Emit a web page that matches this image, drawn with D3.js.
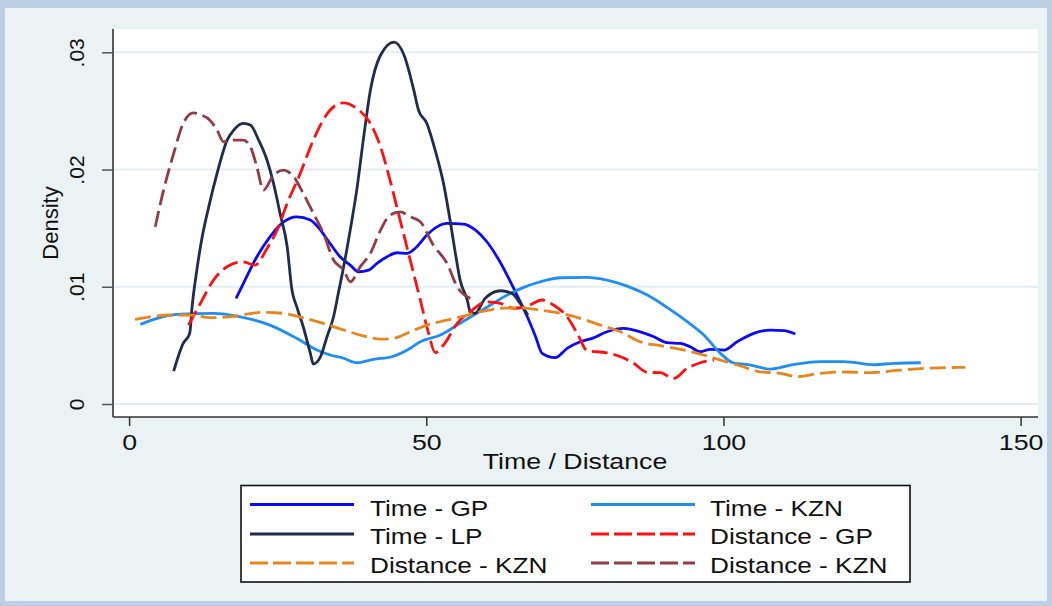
<!DOCTYPE html>
<html>
<head>
<meta charset="utf-8">
<script src="https://cdn.jsdelivr.net/npm/d3@7"></script>
<style>
  html, body { margin: 0; padding: 0; background: #bccfe5; }
  svg { display: block; }
</style>
</head>
<body>
<svg id="chart" width="1052" height="606"></svg>
<script>
// ---- data ---------------------------------------------------------------
const xTicks = [0, 50, 100, 150];
const yTicks = [0, 0.01, 0.02, 0.03];
const yTickLabels = ["0", ".01", ".02", ".03"];
const xTitle = "Time / Distance";
const yTitle = "Density";

const seriesNames = ["Time - GP", "Time - KZN", "Time - LP", "Distance - GP", "Distance - KZN", "Distance - KZN"];

// kernel density estimates: [value, density]
const timeGP = [
  [18.0, 0.00901], [19.5, 0.01057], [21.5, 0.01256], [23.7, 0.01426], [26.0, 0.01554],
  [28.2, 0.01597], [30.5, 0.01569], [32.2, 0.01483], [33.8, 0.01370], [35.5, 0.01256],
  [37.2, 0.01185], [38.6, 0.01128], [40.3, 0.01142], [41.7, 0.01199], [43.4, 0.01256],
  [45.1, 0.01290], [46.8, 0.01285], [48.4, 0.01341], [50.1, 0.01441], [51.8, 0.01511],
  [53.5, 0.01541], [56.3, 0.01535], [58.3, 0.01483], [60.2, 0.01384], [61.9, 0.01256],
  [63.6, 0.01100], [65.0, 0.00957], [67.0, 0.00744], [68.4, 0.00574], [69.5, 0.00432],
  [71.7, 0.00395], [73.7, 0.00475], [75.9, 0.00531], [77.9, 0.00560], [80.4, 0.00616],
  [83.2, 0.00645], [86.0, 0.00616], [88.3, 0.00574], [90.5, 0.00523], [92.8, 0.00517],
  [94.4, 0.00488], [96.1, 0.00446], [97.8, 0.00466], [100.1, 0.00460], [102.3, 0.00531],
  [105.1, 0.00603], [107.9, 0.00631], [110.2, 0.00625], [112.1, 0.00597]
];

const timeKZN = [
  [1.9, 0.00679], [4.7, 0.00731], [8.6, 0.00767], [14.2, 0.00773], [18.7, 0.00744],
  [23.7, 0.00673], [28.2, 0.00560], [31.6, 0.00460], [33.8, 0.00418], [36.1, 0.00390],
  [38.3, 0.00352], [41.1, 0.00381], [44.2, 0.00403], [46.8, 0.00460], [49.0, 0.00531],
  [52.4, 0.00588], [55.2, 0.00673], [58.0, 0.00759], [60.8, 0.00844], [63.6, 0.00929],
  [66.4, 0.00995], [69.2, 0.01043], [72.6, 0.01077], [77.1, 0.01080], [80.4, 0.01057],
  [83.8, 0.01006], [87.2, 0.00929], [90.5, 0.00824], [93.9, 0.00702], [96.7, 0.00588],
  [99.5, 0.00432], [101.5, 0.00354], [104.6, 0.00332], [107.9, 0.00298], [111.3, 0.00332],
  [116.3, 0.00361], [120.3, 0.00361], [125.3, 0.00335], [128.7, 0.00347], [133.2, 0.00352]
];

const timeLP = [
  [7.5, 0.00281], [9.1, 0.00517], [10.2, 0.00603], [10.6, 0.00830], [11.4, 0.01143],
  [12.2, 0.01398], [13.4, 0.01682], [14.8, 0.01967], [16.5, 0.02251], [17.6, 0.02336],
  [19.2, 0.02393], [20.4, 0.02379], [21.8, 0.02251], [23.2, 0.02081], [24.3, 0.01882],
  [25.4, 0.01626], [26.6, 0.01341], [27.4, 0.00972], [28.2, 0.00830], [29.3, 0.00659],
  [30.5, 0.00432], [31.0, 0.00341], [32.2, 0.00403], [33.3, 0.00574], [34.4, 0.00744],
  [35.2, 0.00944], [36.1, 0.01171], [37.2, 0.01483], [38.3, 0.01824], [39.4, 0.02251],
  [40.6, 0.02677], [42.3, 0.02975], [44.6, 0.03086], [46.3, 0.02970], [47.9, 0.02677],
  [48.7, 0.02506], [50.1, 0.02393], [51.5, 0.02165], [52.9, 0.01882], [54.0, 0.01569],
  [54.9, 0.01285], [55.7, 0.01057], [56.9, 0.00887], [57.4, 0.00787], [58.2, 0.00773],
  [59.9, 0.00901], [62.5, 0.00966], [64.4, 0.00944], [65.8, 0.00858], [67.1, 0.00759]
];

const distanceGP = [
  [10.0, 0.00673], [12.0, 0.00858], [14.2, 0.01057], [17.0, 0.01185], [19.2, 0.01213],
  [21.2, 0.01185], [23.2, 0.01327], [24.9, 0.01483], [26.6, 0.01711], [28.8, 0.01967],
  [31.0, 0.02251], [33.8, 0.02506], [36.1, 0.02569], [38.3, 0.02521], [40.6, 0.02393],
  [42.3, 0.02194], [43.9, 0.01910], [45.6, 0.01569], [47.3, 0.01228], [49.0, 0.00887],
  [50.4, 0.00603], [51.5, 0.00439], [52.9, 0.00503], [55.2, 0.00688], [57.4, 0.00787],
  [60.2, 0.00872], [62.5, 0.00858], [64.7, 0.00816], [67.0, 0.00835], [69.5, 0.00887],
  [71.4, 0.00844], [73.7, 0.00744], [75.4, 0.00603], [77.1, 0.00454], [80.4, 0.00437],
  [82.7, 0.00403], [84.9, 0.00347], [87.2, 0.00270], [89.4, 0.00267], [91.6, 0.00219],
  [93.9, 0.00304], [96.1, 0.00352], [98.4, 0.00375]
];

const distanceKZN = [
  [1.0, 0.00722], [3.5, 0.00744], [6.9, 0.00759], [10.3, 0.00759], [13.6, 0.00736],
  [17.0, 0.00744], [19.8, 0.00767], [22.6, 0.00782], [26.0, 0.00773], [29.3, 0.00736],
  [32.7, 0.00688], [36.1, 0.00631], [39.4, 0.00582], [42.3, 0.00554], [44.5, 0.00560],
  [47.3, 0.00616], [50.1, 0.00673], [53.5, 0.00716], [56.3, 0.00750], [59.1, 0.00787],
  [62.5, 0.00816], [65.8, 0.00821], [69.2, 0.00801], [72.6, 0.00773], [75.9, 0.00731],
  [79.3, 0.00673], [82.7, 0.00616], [86.0, 0.00531], [89.4, 0.00497], [92.8, 0.00466],
  [96.1, 0.00426], [99.5, 0.00375], [102.9, 0.00324], [106.2, 0.00275], [109.6, 0.00262],
  [112.4, 0.00233], [116.3, 0.00262], [120.8, 0.00273], [124.8, 0.00267], [128.7, 0.00284],
  [132.0, 0.00298], [136.5, 0.00309], [140.7, 0.00313]
];

const distanceKZN2 = [
  [4.4, 0.01512], [5.8, 0.01824], [7.5, 0.02137], [9.1, 0.02393], [10.8, 0.02483],
  [12.2, 0.02464], [13.6, 0.02421], [14.8, 0.02336], [15.9, 0.02236], [17.6, 0.02251],
  [19.2, 0.02251], [20.4, 0.02194], [21.5, 0.02023], [22.6, 0.01824], [24.3, 0.01952],
  [26.0, 0.01995], [27.7, 0.01938], [29.3, 0.01796], [31.0, 0.01626], [32.7, 0.01455],
  [34.4, 0.01228], [36.1, 0.01142], [37.2, 0.01043], [38.9, 0.01171], [40.6, 0.01285],
  [42.3, 0.01483], [43.9, 0.01611], [45.6, 0.01639], [47.3, 0.01597], [49.0, 0.01554],
  [51.2, 0.01355], [53.5, 0.01199], [55.2, 0.01000], [57.4, 0.00901]
];

const seriesData = [timeGP, timeKZN, timeLP, distanceGP, distanceKZN, distanceKZN2];
const seriesColors = ["#0a0af5", "#1e8ef5", "#1f2c4c", "#ff1010", "#e8861c", "#913c46"];
const seriesDashed = [false, false, false, true, true, true];

// ---- layout -------------------------------------------------------------
const W = 1052, H = 606;
const plot = { left: 113, right: 1038, top: 29, bottom: 417 };
const FONT = "'Liberation Sans', Arial, Helvetica, sans-serif";
const SX = 1.215;            // horizontal text widening
const SX_LEGEND = 1.19;
const DASH = "16,6";

const svg = d3.select("#chart");

// backgrounds
svg.append("rect").attr("x", 0).attr("y", 0).attr("width", W).attr("height", H).attr("fill", "#bccfe5");
svg.append("rect").attr("x", 5).attr("y", 8).attr("width", W - 10).attr("height", H - 13).attr("fill", "#eaf2f3");
svg.append("rect")
  .attr("x", plot.left).attr("y", plot.top)
  .attr("width", plot.right - plot.left).attr("height", plot.bottom - plot.top)
  .attr("fill", "#ffffff");

const x = d3.scaleLinear().domain([0, 150]).range([129.1, 1020.6]);
const y = d3.scaleLinear().domain([0, 0.03]).range([404, 52.3]);

// gridlines
svg.append("g").selectAll("line").data(yTicks).join("line")
  .attr("x1", plot.left + 1).attr("x2", plot.right)
  .attr("y1", d => y(d)).attr("y2", d => y(d))
  .attr("stroke", "#e4edf1").attr("stroke-width", 2);

// y axis
const yAxis = svg.append("g")
  .attr("transform", `translate(${plot.left},0)`)
  .call(d3.axisLeft(y).tickValues(yTicks).tickSize(11).tickFormat((d, i) => yTickLabels[i]));
yAxis.select(".domain").attr("d", `M0,${plot.top}V${plot.bottom}`).attr("stroke", "#333").attr("stroke-width", 1.6);
yAxis.selectAll(".tick line").attr("stroke", "#555").attr("stroke-width", 1.5);
yAxis.selectAll(".tick text")
  .attr("font-family", FONT).attr("font-size", 21).attr("fill", "#111")
  .attr("x", null).attr("dy", null)
  .attr("text-anchor", "middle")
  .attr("transform", "translate(-29,0) rotate(-90)");

// x axis
const xAxis = svg.append("g")
  .attr("transform", `translate(0,${plot.bottom})`)
  .call(d3.axisBottom(x).tickValues(xTicks).tickSize(9).tickFormat(d3.format("d")));
xAxis.select(".domain").attr("d", `M${plot.left},0H${plot.right}`).attr("stroke", "#333").attr("stroke-width", 1.6);
xAxis.selectAll(".tick line").attr("stroke", "#333").attr("stroke-width", 1.5);
xAxis.selectAll(".tick text")
  .attr("font-family", FONT).attr("font-size", 22).attr("fill", "#111")
  .attr("y", null).attr("dy", null)
  .attr("transform", `translate(0,32.5) scale(${SX},1)`);

// axis titles
svg.append("text")
  .attr("font-family", FONT).attr("font-size", 22).attr("fill", "#111")
  .attr("text-anchor", "middle")
  .attr("transform", `translate(${(plot.left + plot.right) / 2 - 0.5},469.3) scale(${SX},1)`)
  .text(xTitle);

svg.append("text")
  .attr("font-family", FONT).attr("font-size", 22).attr("fill", "#111")
  .attr("text-anchor", "middle")
  .attr("transform", `translate(58,${(plot.top + plot.bottom) / 2}) rotate(-90)`)
  .text(yTitle);

// density curves
const line = d3.line().x(d => x(d[0])).y(d => y(d[1])).curve(d3.curveMonotoneX);
svg.append("g").selectAll("path").data(seriesData).join("path")
  .attr("d", d => line(d))
  .attr("fill", "none")
  .attr("stroke", (d, i) => seriesColors[i])
  .attr("stroke-width", 2.8)
  .attr("stroke-linejoin", "round")
  .attr("stroke-dasharray", (d, i) => seriesDashed[i] ? DASH : null);

// legend
const legend = { left: 241, top: 485.5, width: 669, height: 96.5 };
svg.append("rect")
  .attr("x", legend.left).attr("y", legend.top)
  .attr("width", legend.width).attr("height", legend.height)
  .attr("fill", "#fff").attr("stroke", "#111").attr("stroke-width", 1.6);

const colLine = [[250, 354], [591, 695]];
const colText = [370, 710];
const rowLine = [504.5, 534, 563];
const rowText = [515.5, 544, 572.5];

const items = svg.append("g").selectAll("g").data(seriesNames).join("g");
items.append("line")
  .attr("x1", (d, i) => colLine[i % 2][0]).attr("x2", (d, i) => colLine[i % 2][1])
  .attr("y1", (d, i) => rowLine[Math.floor(i / 2)]).attr("y2", (d, i) => rowLine[Math.floor(i / 2)])
  .attr("stroke", (d, i) => seriesColors[i]).attr("stroke-width", 2.8)
  .attr("stroke-dasharray", (d, i) => seriesDashed[i] ? "18,5" : null);
items.append("text")
  .attr("font-family", FONT).attr("font-size", 22).attr("fill", "#111")
  .attr("transform", (d, i) => `translate(${colText[i % 2]},${rowText[Math.floor(i / 2)]}) scale(${SX_LEGEND},1)`)
  .text(d => d);
</script>
</body>
</html>
